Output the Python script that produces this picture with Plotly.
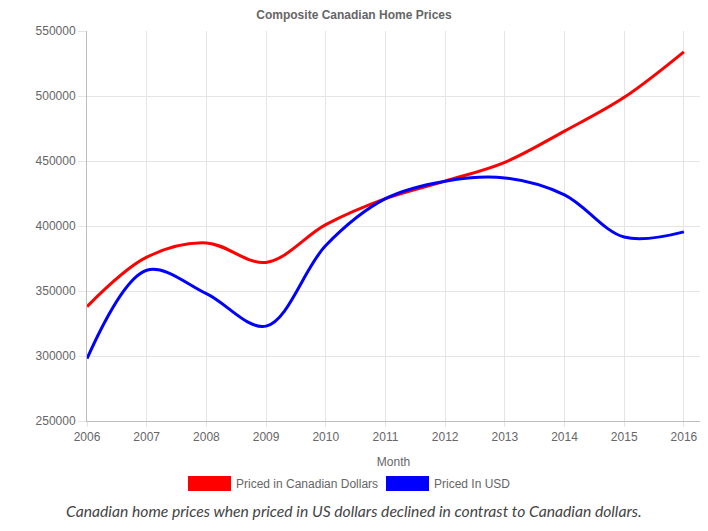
import plotly.graph_objects as go

years = [2006, 2007, 2008, 2009, 2010, 2011, 2012, 2013, 2014, 2015, 2016]
cad_prices = [338000, 376000, 387000, 372000, 401000, 421000, 434500, 449000, 473000, 499000, 534000]
usd_prices = [298000, 366000, 348000, 323000, 385000, 421000, 434500, 437000, 424000, 391500, 395500]
y_ticks = [250000, 300000, 350000, 400000, 450000, 500000, 550000]

title = "Composite Canadian Home Prices"
x_title = "Month"
series_names = ["Priced in Canadian Dollars", "Priced In USD"]
colors = ["#ff0000", "#0000ff"]
caption = "Canadian home prices when priced in US dollars declined in contrast to Canadian dollars."

font = "Liberation Sans, Arial, Helvetica, sans-serif"
grey = "#666666"

fig = go.Figure()
for name, vals, c in zip(series_names, [cad_prices, usd_prices], colors):
    fig.add_trace(go.Scatter(x=years, y=vals, mode="lines", name=name,
                             line=dict(color=c, width=3, shape="spline", smoothing=1.0),
                             showlegend=False, hoverinfo="x+y"))

fig.update_layout(
    width=708, height=531,
    margin=dict(l=87, r=8, t=31, b=110),
    paper_bgcolor="white", plot_bgcolor="white",
    font=dict(family=font, size=12, color=grey),
    title=dict(text="<b>" + title + "</b>", x=0.5, xanchor="center", y=1 - 15 / 531, yanchor="middle",
               font=dict(family=font, size=12, color=grey)),
    xaxis=dict(range=[2006, 2016.27], tickvals=years, ticktext=[str(y) for y in years],
               showgrid=True, gridcolor="#e5e5e5", gridwidth=1,
               showline=True, linecolor="#bdbdbd", linewidth=1,
               ticks="outside", ticklen=5, tickcolor="#e5e5e5",
               zeroline=False, tickfont=dict(size=12, color=grey),
               title=dict(text=x_title, font=dict(size=12, color=grey), standoff=14)),
    yaxis=dict(range=[250000, 550000], tickvals=y_ticks, tickformat="d",
               showgrid=True, gridcolor="#e5e5e5", gridwidth=1,
               showline=True, linecolor="#bdbdbd", linewidth=1,
               ticks="outside", ticklen=8, tickcolor="#e5e5e5",
               zeroline=False, tickfont=dict(size=12, color=grey)),
)

# Custom legend (boxes + labels) in pixel-based paper coordinates
W, H = 708, 531
pl, pr, pt, pb = 87, 8, 31, 110
pw, ph = W - pl - pr, H - pt - pb

def px_x(x):
    return (x - pl) / pw

def px_y(y):
    return (H - pb - y) / ph

legend_items = [(188, 231, series_names[0], colors[0]), (386, 429, series_names[1], colors[1])]
for x0, x1, label, c in legend_items:
    fig.add_shape(type="rect", xref="paper", yref="paper",
                  x0=px_x(x0), x1=px_x(x1), y0=px_y(491), y1=px_y(476),
                  fillcolor=c, line=dict(color=c, width=0))
    fig.add_annotation(xref="paper", yref="paper", x=px_x(x1 + 3), y=px_y(483.5),
                       text=label, showarrow=False, xanchor="left", yanchor="middle",
                       font=dict(family=font, size=12, color=grey))

fig.add_annotation(xref="paper", yref="paper", x=px_x(354), y=px_y(511),
                   text="<i>" + caption + "</i>", showarrow=False,
                   xanchor="center", yanchor="middle",
                   font=dict(family="Lato, sans-serif", size=15.7, color="#444444"))

fig.write_html("out.html", config={"displayModeBar": False},
               post_script="document.body.style.margin='0';document.body.style.padding='0';")
